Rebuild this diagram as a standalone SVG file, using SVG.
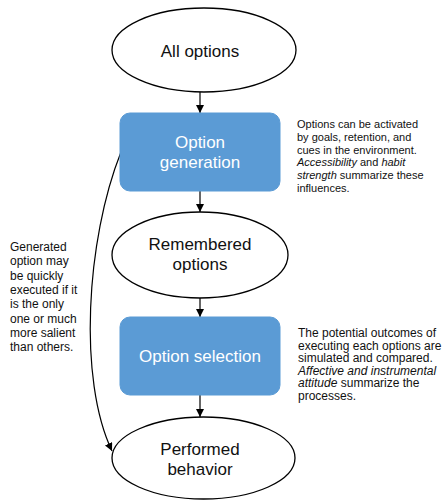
<svg xmlns="http://www.w3.org/2000/svg" width="442" height="500" viewBox="0 0 442 500">
  <defs>
    <marker id="arr" markerWidth="8" markerHeight="8" refX="8" refY="4" orient="auto" markerUnits="userSpaceOnUse">
      <path d="M0,0 L8,4 L0,8 Z" fill="#000"/>
    </marker>
    <style>
      .ell { fill: #fff; stroke: #000; stroke-width: 1.3; }
      .box { fill: #5B9BD5; stroke: #5B9BD5; stroke-width: 1; }
      .lbl { font-family: "Liberation Sans", Arial, sans-serif; font-size: 17px; text-anchor: middle; fill: #111; }
      .wlbl { font-family: "Liberation Sans", Arial, sans-serif; font-size: 17px; text-anchor: middle; fill: #fff; }
      .note { font-family: "Liberation Sans", Arial, sans-serif; font-size: 11px; fill: #111; }
      .note2 { font-family: "Liberation Sans", Arial, sans-serif; font-size: 12px; fill: #111; }
      .conn { fill: none; stroke: #000; stroke-width: 1.2; }
    </style>
  </defs>
  <rect width="442" height="500" fill="#fff"/>

  <g id="connectors">
    <line class="conn" x1="200" y1="92" x2="200" y2="113" marker-end="url(#arr)"/>
    <line class="conn" x1="200" y1="191" x2="200" y2="212" marker-end="url(#arr)"/>
    <line class="conn" x1="200" y1="298" x2="200" y2="317" marker-end="url(#arr)"/>
    <line class="conn" x1="200" y1="395" x2="200" y2="417" marker-end="url(#arr)"/>
    <path class="conn" d="M121,152 C86,240 78,380 112,451" marker-end="url(#arr)"/>
  </g>

  <g id="all-options">
    <ellipse class="ell" cx="204" cy="50" rx="92" ry="42"/>
    <text class="lbl" x="200" y="57">All options</text>
  </g>

  <g id="option-generation">
    <rect class="box" x="120" y="113" width="160" height="78" rx="10"/>
    <text class="wlbl" x="200" y="148">Option</text>
    <text class="wlbl" x="200" y="168">generation</text>
  </g>

  <g id="remembered-options">
    <ellipse class="ell" cx="200" cy="255" rx="88" ry="43"/>
    <text class="lbl" x="200" y="250">Remembered</text>
    <text class="lbl" x="200" y="270">options</text>
  </g>

  <g id="option-selection">
    <rect class="box" x="120" y="317" width="160" height="78" rx="10"/>
    <text class="wlbl" x="200" y="362">Option selection</text>
  </g>

  <g id="performed-behavior">
    <ellipse class="ell" cx="203.5" cy="458" rx="91.5" ry="41"/>
    <text class="lbl" x="200" y="455">Performed</text>
    <text class="lbl" x="200" y="475">behavior</text>
  </g>

  <g id="note-generation">
    <text class="note" x="297" y="128">Options can be activated</text>
    <text class="note" x="297" y="140.8">by goals, retention, and</text>
    <text class="note" x="297" y="153.6">cues in the environment.</text>
    <text class="note" x="297" y="166.4"><tspan font-style="italic">Accessibility</tspan> and <tspan font-style="italic">habit</tspan></text>
    <text class="note" x="297" y="179.2"><tspan font-style="italic">strength</tspan> summarize these</text>
    <text class="note" x="297" y="192">influences.</text>
  </g>

  <g id="note-selection">
    <text class="note2" x="298" y="337">The potential outcomes of</text>
    <text class="note2" x="298" y="349.5">executing each options are</text>
    <text class="note2" x="298" y="362">simulated and compared.</text>
    <text class="note2" x="298" y="374.5"><tspan font-style="italic">Affective and instrumental</tspan></text>
    <text class="note2" x="298" y="387"><tspan font-style="italic">attitude</tspan> summarize the</text>
    <text class="note2" x="298" y="399.5">processes.</text>
  </g>

  <g id="note-shortcut">
    <text class="note2" x="10" y="251">Generated</text>
    <text class="note2" x="10" y="265.3">option may</text>
    <text class="note2" x="10" y="279.6">be quickly</text>
    <text class="note2" x="10" y="293.9">executed if it</text>
    <text class="note2" x="10" y="308.2">is the only</text>
    <text class="note2" x="10" y="322.5">one or much</text>
    <text class="note2" x="10" y="336.8">more salient</text>
    <text class="note2" x="10" y="351.1">than others.</text>
  </g>
</svg>
